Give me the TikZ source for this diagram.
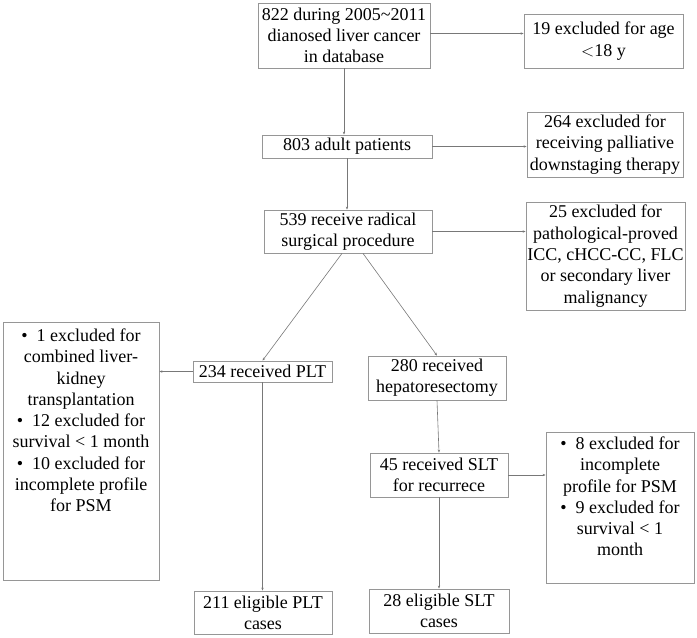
\documentclass[tikz,border=0pt]{standalone}
\usepackage{fontspec}
\setmainfont{Liberation Serif}
\usetikzlibrary{arrows.meta}
\definecolor{boxgray}{RGB}{150,150,150}
\definecolor{linegray}{RGB}{120,120,120}
\tikzset{
  box/.style={draw=boxgray, line width=0.8pt, inner sep=0pt, align=center,
    font=\fontsize{18}{21.3}\selectfont},
  txt/.style={inner sep=0pt, align=center, anchor=north,
    font=\fontsize{18}{21.3}\selectfont},
  conn/.style={draw=linegray, line width=0.6pt},
  arr/.style={conn, -{Stealth[length=3pt,width=2.4pt]}}
}
\begin{document}
\begin{tikzpicture}[x=1pt,y=-1pt]
\useasboundingbox (0,0) rectangle (697,638);
\node[box, minimum width=172pt, minimum height=65pt] (A) at (344,35.5)
  {822 during 2005\textasciitilde 2011\\dianosed liver cancer\\in database};
\node[box, minimum width=159pt, minimum height=54pt] (B) at (603.5,41)
  {19 excluded for age\\${<}$18 y};
\node[box, minimum width=170pt, minimum height=23pt] (C) at (347,146.5)
  {803 adult patients};
\node[box, minimum width=156pt, minimum height=65pt] (D) at (605,144.5)
  {264 excluded for\\receiving palliative\\downstaging therapy};
\node[box, minimum width=168pt, minimum height=43pt] (E) at (348,231.5)
  {539 receive radical\\surgical procedure};
\node[box, minimum width=159pt, minimum height=108pt] (F) at (605.5,256)
  {25 excluded for\\pathological-proved\\ICC, cHCC-CC, FLC\\or secondary liver\\malignancy};
\node[box, minimum width=139pt, minimum height=21pt] (G) at (262.5,371.5)
  {234 received PLT};
\node[box, minimum width=156pt, minimum height=258pt] (H) at (81,451) {};
\node[txt] (Ht) at ([yshift=-7pt]H.north)
  {\textbullet\ \ 1 excluded for\\combined liver-\\kidney\\transplantation\\
   \textbullet\ \ 12 excluded for\\survival < 1 month\\
   \textbullet\ \ 10 excluded for\\incomplete profile\\for PSM};
\node[box, minimum width=138pt, minimum height=43pt] (I) at (263,612.5)
  {211 eligible PLT\\cases};
\node[box, minimum width=138pt, minimum height=44pt] (J) at (437,378)
  {280 received\\hepatoresectomy};
\node[box, minimum width=138pt, minimum height=44pt] (K) at (439,475)
  {45 received SLT\\for recurrece};
\node[box, minimum width=148pt, minimum height=151pt] (L) at (620,507.5) {};
\node[txt] (Lt) at ([yshift=-5pt]L.north)
  {\textbullet\ \ 8 excluded for\\incomplete\\profile for PSM\\
   \textbullet\ \ 9 excluded for\\survival < 1\\month};
\node[box, minimum width=140pt, minimum height=44pt] (M) at (439,611)
  {28 eligible SLT\\cases};

\draw[arr] ([yshift=2pt]A.east) -- ([yshift=2pt]A.east -| B.west);
\draw[arr] (A.south) -- (A.south |- C.north);
\draw[arr] (C.east) -- (C.east -| D.west);
\draw[arr] (C.south) -- (C.south |- E.north);
\draw[arr] (E.east) -- (E.east -| F.west);
\draw[arr] ([xshift=-6pt]E.south) -- (G.north);
\draw[arr] ([xshift=15pt]E.south) -- (J.north);
\draw[arr] (G.west) -- (G.west -| H.east);
\draw[arr] (G.south) -- (G.south |- I.north);
\draw[arr] (J.south) -- (K.north);
\draw[arr] (K.east) -- (K.east -| L.west);
\draw[arr] (K.south) -- (K.south |- M.north);
\end{tikzpicture}
\end{document}
